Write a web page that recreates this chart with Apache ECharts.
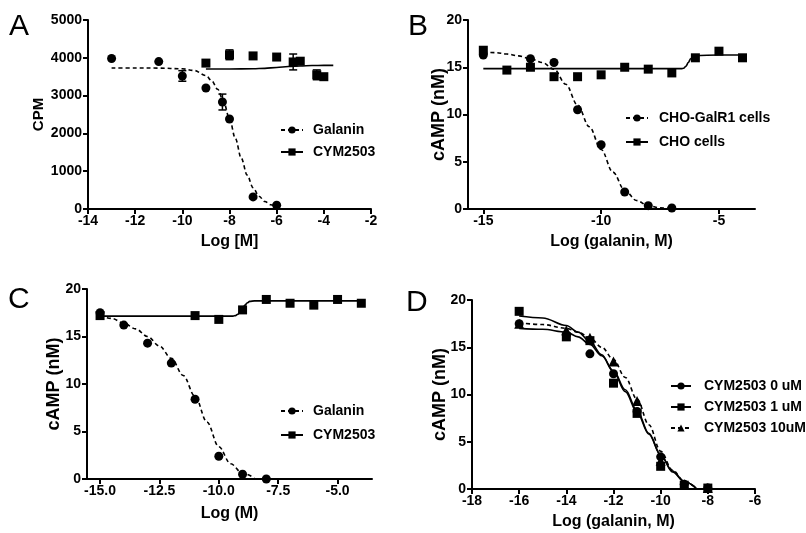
<!DOCTYPE html>
<html><head><meta charset="utf-8">
<script src="https://cdn.jsdelivr.net/npm/echarts@6/dist/echarts.min.js"></script>
<style>html,body{margin:0;padding:0;background:#fff}#c{width:806px;height:533px}</style>
</head><body><div id="c"></div>
<script>
// ---------- Panel A ----------
const aGalX = [-13, -11, -10, -9, -8.3, -8, -7, -6];
const aGalY = [3980, 3900, 3520, 3200, 2830, 2380, 320, 100];
const aGalErrX = [-10, -8.3];
const aGalErrY = [3520, 2830];
const aGalErrE = [140, 210];
const aCymX = [-9, -8, -7, -6, -5.3, -5, -4.3, -4];
const aCymY = [3860, 4080, 4050, 4020, 3890, 3910, 3550, 3500];
const aCymErrX = [-8, -5.3, -4.3];
const aCymErrY = [4080, 3890, 3550];
const aCymErrE = [130, 210, 130];
const aGalFitX = [-13, -12, -11, -10, -9.5, -9, -8.75, -8.5, -8.25, -8, -7.75, -7.5, -7.25, -7, -6.75, -6.5, -6.25, -6];
const aGalFitY = [3730, 3730, 3728, 3709, 3665, 3531, 3391, 3167, 2834, 2388, 1865, 1343, 896, 563, 339, 198, 114, 65];
const aCymFitX = [-9, -8, -7, -6.5, -6, -5.5, -5, -4.5, -4, -3.6];
const aCymFitY = [3705, 3705, 3710, 3720, 3745, 3770, 3785, 3795, 3800, 3800];

// ---------- Panel B ----------
const bGalX = [-15, -13, -12, -11, -10, -9, -8, -7];
const bGalY = [16.3, 15.9, 15.5, 10.5, 6.8, 1.8, 0.35, 0.1];
const bChoX = [-15, -14, -13, -12, -11, -10, -9, -8, -7, -6, -5, -4];
const bChoY = [16.8, 14.7, 15.0, 14.0, 14.0, 14.2, 15.0, 14.8, 14.4, 16.0, 16.7, 16.0];
const bGalFitX = [-15, -14.5, -14, -13.5, -13, -12.5, -12, -11.5, -11, -10.5, -10, -9.5, -9, -8.5, -8, -7.5, -7];
const bGalFitY = [16.6, 16.55, 16.4, 16.2, 15.9, 15.5, 14.8, 13.2, 11.0, 8.7, 6.3, 3.9, 2.0, 0.9, 0.35, 0.12, 0.05];
const bChoFitX = [-15, -10, -6.6, -6.5, -6.4, -6.3, -6.2, -6.1, -6, -5, -4];
const bChoFitY = [14.85, 14.85, 14.85, 14.9, 15.1, 15.5, 15.9, 16.15, 16.25, 16.3, 16.3];

// ---------- Panel C ----------
const cGalX = [-15, -14, -13, -12, -11, -10, -9, -8];
const cGalY = [17.5, 16.2, 14.3, 12.2, 8.4, 2.4, 0.5, 0.0];
const cCymX = [-15, -11, -10, -9, -8, -7, -6, -5, -4];
const cCymY = [17.2, 17.2, 16.8, 17.8, 18.9, 18.5, 18.3, 18.9, 18.5];
const cGalFitX = [-15, -14.5, -14, -13.5, -13, -12.5, -12, -11.5, -11, -10.5, -10, -9.5, -9, -8.5];
const cGalFitY = [17.2, 16.9, 16.4, 15.8, 15.0, 14.0, 12.7, 10.9, 8.7, 6.0, 3.4, 1.6, 0.6, 0.1];
const cCymFitX = [-15, -9.4, -9.3, -9.2, -9.1, -9.0, -8.9, -8.8, -8.7, -8.5, -4];
const cCymFitY = [17.15, 17.15, 17.2, 17.35, 17.6, 17.95, 18.3, 18.55, 18.7, 18.75, 18.75];

// ---------- Panel D ----------
const dX = [-16, -14, -13, -12, -11, -10, -9, -8];
const d0Y = [17.5, 16.3, 14.3, 12.2, 8.2, 3.4, 0.5, 0.1];
const d1Y = [18.8, 16.1, 15.7, 11.2, 8.0, 2.4, 0.4, 0.1];
const d10Y = [17.5, 16.8, 16.0, 13.5, 9.3, 3.0, 0.5, 0.1];
const dFitX = [-16, -15, -14, -13.5, -13, -12.5, -12, -11.5, -11, -10.5, -10, -9.5, -9, -8.5];
const d0Fit = [17.0, 16.9, 16.6, 16.1, 15.3, 14.1, 12.5, 10.5, 8.3, 5.9, 3.6, 1.8, 0.8, 0.1];
const d1Fit = [18.3, 18.1, 17.3, 16.6, 15.6, 14.2, 12.4, 10.3, 8.1, 5.8, 3.6, 1.9, 0.8, 0.1];
const d10Fit = [17.6, 17.4, 17.0, 16.6, 16.0, 15.0, 13.7, 11.8, 9.5, 6.8, 4.0, 2.0, 0.8, 0.1];

// ---------- tick labels ----------
const bTicks = [-15, -10, -5];
const cTicks = [-15, -12.5, -10, -7.5, -5];

const FONT = "'Liberation Sans', Arial, Helvetica, sans-serif";
const chart = echarts.init(document.getElementById('c'));
const pairs = (xs, ys) => xs.map((x, i) => [x, ys[i]]);
const triples = (xs, ys, es) => xs.map((x, i) => [x, ys[i], es[i]]);

const labelStyle = {fontFamily: FONT, fontSize: 14, fontWeight: 'bold', color: '#000'};

function xAx(gi, min, max, name, gap, extra) {
  const ax = {
    type: 'value', gridIndex: gi, min: min, max: max, name: name,
    nameLocation: 'middle', nameGap: gap, nameMoveOverlap: false,
    nameTextStyle: {fontFamily: FONT, fontSize: 16, fontWeight: 'bold', color: '#000'},
    axisLine: {show: true, onZero: false, lineStyle: {color: '#000', width: 2}},
    axisTick: {show: true, length: 5, lineStyle: {color: '#000', width: 2}},
    axisLabel: Object.assign({margin: 5}, labelStyle),
    splitLine: {show: false}
  };
  if (extra) extra(ax);
  return ax;
}
function yAx(gi, max, interval, name, gap, fs) {
  return {
    type: 'value', gridIndex: gi, min: 0, max: max, interval: interval, name: name,
    nameLocation: 'middle', nameGap: gap, nameMoveOverlap: false,
    nameTextStyle: {fontFamily: FONT, fontSize: fs, fontWeight: 'bold', color: '#000'},
    axisLine: {show: true, onZero: false, lineStyle: {color: '#000', width: 2}},
    axisTick: {show: true, length: 5, lineStyle: {color: '#000', width: 2}},
    axisLabel: Object.assign({margin: 6, formatter: v => String(v)}, labelStyle),
    splitLine: {show: false}
  };
}

function fit(name, gi, xs, ys, dashed, symbol) {
  return {
    type: 'line', name: name, xAxisIndex: gi, yAxisIndex: gi,
    data: pairs(xs, ys), smooth: 0.35, smoothMonotone: 'x',
    symbol: symbol, symbolSize: 9, showSymbol: false,
    lineStyle: {color: '#000', width: 1.6, type: dashed ? [4, 3] : 'solid'},
    itemStyle: {color: '#000'}, silent: true, z: 2
  };
}
function pts(name, gi, xs, ys, symbol, size) {
  return {
    type: 'scatter', name: name, xAxisIndex: gi, yAxisIndex: gi,
    data: pairs(xs, ys), symbol: symbol, symbolSize: size,
    itemStyle: {color: '#000', opacity: 1}, silent: true, z: 4
  };
}
function errs(gi, xs, ys, es) {
  return {
    type: 'custom', xAxisIndex: gi, yAxisIndex: gi, silent: true, z: 5,
    data: triples(xs, ys, es),
    renderItem: function (params, api) {
      const x = api.value(0), y = api.value(1), e = api.value(2);
      const t = api.coord([x, y + e]), b = api.coord([x, y - e]);
      const w = 4, st = {stroke: '#000', lineWidth: 1.5};
      return {type: 'group', children: [
        {type: 'line', shape: {x1: t[0], y1: t[1], x2: b[0], y2: b[1]}, style: st},
        {type: 'line', shape: {x1: t[0] - w, y1: t[1], x2: t[0] + w, y2: t[1]}, style: st},
        {type: 'line', shape: {x1: b[0] - w, y1: b[1], x2: b[0] + w, y2: b[1]}, style: st}
      ]};
    }
  };
}
function leg(left, top, gap, names, iw, tpad) {
  return {
    left: left, top: top, padding: 0, orient: 'vertical', itemWidth: iw, itemHeight: 9, itemGap: gap,
    selectedMode: false, data: names,
    textStyle: {fontFamily: FONT, fontSize: 14, fontWeight: 'bold', color: '#000', lineHeight: 14, padding: [0, 0, 0, tpad]}
  };
}

const letterFont = '30px ' + FONT;
const option = {
  animation: false,
  backgroundColor: '#fff',
  grid: [
    {left: 88, top: 20, width: 283, height: 189},
    {left: 468, top: 20, width: 287, height: 189},
    {left: 87, top: 289, width: 285, height: 190},
    {left: 472, top: 300, width: 283, height: 189}
  ],
  xAxis: [
    xAx(0, -14, -2, 'Log [M]', 25, ax => { ax.interval = 2; }),
    xAx(1, -15.65, -3.47, 'Log (galanin, M)', 25, ax => {
      ax.axisTick.customValues = bTicks; ax.axisLabel.customValues = bTicks;
    }),
    xAx(2, -15.55, -3.55, 'Log (M)', 27, ax => {
      ax.axisTick.customValues = cTicks; ax.axisLabel.customValues = cTicks;
      ax.axisLabel.formatter = v => v.toFixed(1);
    }),
    xAx(3, -18, -6, 'Log (galanin, M)', 25, ax => { ax.interval = 2; })
  ],
  yAxis: [
    yAx(0, 5000, 1000, 'CPM', 42, 15),
    yAx(1, 20, 5, 'cAMP (nM)', 20, 18),
    yAx(2, 20, 5, 'cAMP (nM)', 24, 18),
    yAx(3, 20, 5, 'cAMP (nM)', 23, 18)
  ],
  legend: [
    leg(280, 123, 8, ['Galanin', 'CYM2503'], 22, 5),
    leg(625, 111, 10, ['CHO-GalR1 cells', 'CHO cells'], 22, 6),
    leg(280, 404, 10, ['Galanin', 'CYM2503'], 22, 5),
    leg(670, 379, 7, ['CYM2503 0 uM', 'CYM2503 1 uM', 'CYM2503 10uM'], 20, 8)
  ],
  graphic: [
    {type: 'text', left: 9, top: 12, style: {text: 'A', font: letterFont, fill: '#000'}},
    {type: 'text', left: 408, top: 12, style: {text: 'B', font: letterFont, fill: '#000'}},
    {type: 'text', left: 8, top: 285, style: {text: 'C', font: letterFont, fill: '#000'}},
    {type: 'text', left: 406, top: 288, style: {text: 'D', font: letterFont, fill: '#000'}}
  ],
  series: [
    fit('Galanin', 0, aGalFitX, aGalFitY, true, 'circle'),
    fit('CYM2503', 0, aCymFitX, aCymFitY, false, 'rect'),
    pts('Galanin', 0, aGalX, aGalY, 'circle', 9),
    pts('CYM2503', 0, aCymX, aCymY, 'rect', 9),
    errs(0, aGalErrX, aGalErrY, aGalErrE),
    errs(0, aCymErrX, aCymErrY, aCymErrE),

    fit('CHO-GalR1 cells', 1, bGalFitX, bGalFitY, true, 'circle'),
    fit('CHO cells', 1, bChoFitX, bChoFitY, false, 'rect'),
    pts('CHO-GalR1 cells', 1, bGalX, bGalY, 'circle', 9),
    pts('CHO cells', 1, bChoX, bChoY, 'rect', 9),

    fit('Galanin', 2, cGalFitX, cGalFitY, true, 'circle'),
    fit('CYM2503', 2, cCymFitX, cCymFitY, false, 'rect'),
    pts('Galanin', 2, cGalX, cGalY, 'circle', 9),
    pts('CYM2503', 2, cCymX, cCymY, 'rect', 9),

    fit('CYM2503 0 uM', 3, dFitX, d0Fit, false, 'circle'),
    fit('CYM2503 1 uM', 3, dFitX, d1Fit, false, 'rect'),
    fit('CYM2503 10uM', 3, dFitX, d10Fit, true, 'triangle'),
    pts('CYM2503 10uM', 3, dX, d10Y, 'triangle', 10),
    pts('CYM2503 0 uM', 3, dX, d0Y, 'circle', 9),
    pts('CYM2503 1 uM', 3, dX, d1Y, 'rect', 9)
  ]
};
chart.setOption(option);
</script>
</body></html>
